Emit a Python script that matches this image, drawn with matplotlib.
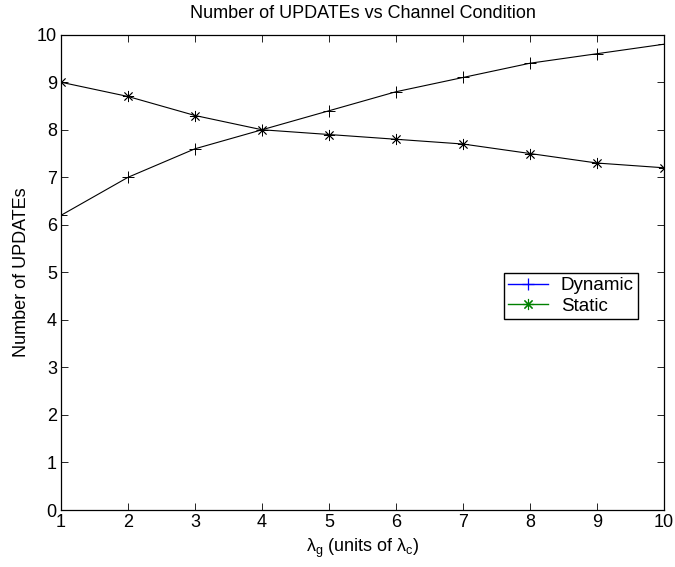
import matplotlib
matplotlib.use('Agg')
import matplotlib.pyplot as plt
from matplotlib.lines import Line2D

plt.rcParams['font.family'] = ['Liberation Sans', 'DejaVu Sans']
plt.rcParams['font.size'] = 13
plt.rcParams['mathtext.fontset'] = 'custom'
plt.rcParams['mathtext.rm'] = 'Liberation Sans'
plt.rcParams['mathtext.it'] = 'Liberation Sans'
plt.rcParams['mathtext.default'] = 'regular'

# Datos: numero de UPDATEs segun la condicion del canal
lambda_g = [1, 2, 3, 4, 5, 6, 7, 8, 9, 10]
dinamico = [6.2, 7.0, 7.6, 8.0, 8.4, 8.8, 9.1, 9.4, 9.6, 9.8]
estatico = [9.0, 8.7, 8.3, 8.0, 7.9, 7.8, 7.7, 7.5, 7.3, 7.2]
etiquetas = ['Dynamic', 'Static']

asterisco = (8, 2, 0)

fig = plt.figure(figsize=(6.75, 5.67), dpi=100)
ax = fig.add_axes([0.0904, 0.1005, 0.8933, 0.8383])

ax.plot(lambda_g, dinamico, color='black', lw=0.8, marker='+', ms=8, mew=0.7)
ax.plot(lambda_g, estatico, color='black', lw=0.8, marker=asterisco, ms=8, mew=0.6)

ax.set_xlim(1, 10)
ax.set_ylim(0, 10)
ax.set_xticks(range(1, 11))
ax.set_yticks(range(0, 11))
ax.tick_params(direction='in', top=True, right=True, length=5, width=0.6, pad=3)
for lado in ax.spines.values():
    lado.set_linewidth(0.9)

ax.set_title('Number of UPDATEs vs Channel Condition', fontsize=13, pad=12)
ax.set_xlabel(r'$\lambda_g$ (units of $\lambda_c$)', labelpad=4)
ax.set_ylabel('Number of UPDATEs', labelpad=5)

# La leyenda usa colores aunque las curvas se dibujan en negro
handles = [
    Line2D([], [], color='blue', lw=1.0, marker='+', ms=9, mew=0.9),
    Line2D([], [], color='green', lw=1.0, marker=asterisco, ms=8, mew=0.8),
]
leg = ax.legend(handles, etiquetas, loc='upper right', bbox_to_anchor=(0.957, 0.499),
                borderaxespad=0, fancybox=False, framealpha=1, edgecolor='black',
                handlelength=2.1, handletextpad=0.7, borderpad=0.22, labelspacing=0.2,
                fontsize=13.5)
leg.get_frame().set_linewidth(1.0)

fig.savefig('out.png', dpi=100)
